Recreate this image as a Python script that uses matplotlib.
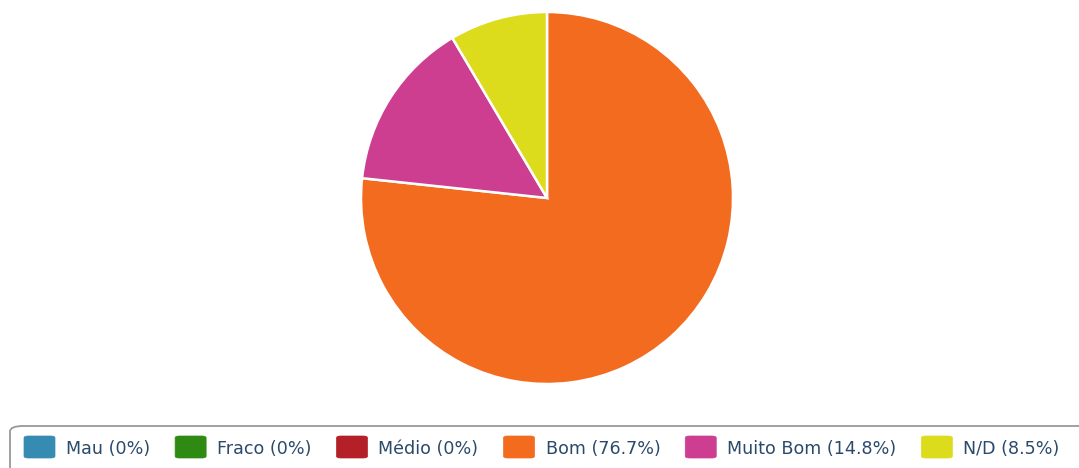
import matplotlib
matplotlib.use("Agg")
import matplotlib.pyplot as plt
from matplotlib.patches import FancyBboxPatch

labels = ["Mau", "Fraco", "Médio", "Bom", "Muito Bom", "N/D"]
values = [0, 0, 0, 76.7, 14.8, 8.5]
colors = ["#368bb2", "#2e8a12", "#b32028", "#f26b1f", "#cd3e91", "#dcdc1c"]
legend_labels = ["Mau (0%)", "Fraco (0%)", "Médio (0%)", "Bom (76.7%)",
                 "Muito Bom (14.8%)", "N/D (8.5%)"]

W, H = 1079, 468
fig = plt.figure(figsize=(W / 100, H / 100), dpi=100)
plt.rcParams["font.family"] = ["DejaVu Sans"]

# pie, only non-zero slices drawn
cx, cy, r = 547, 198, 186
ax = fig.add_axes([(cx - r) / W, 1 - (cy + r) / H, 2 * r / W, 2 * r / H])
vals = [v for v in values if v > 0]
cols = [c for v, c in zip(values, colors) if v > 0]
ax.pie(vals, colors=cols, startangle=90, counterclock=False,
       wedgeprops=dict(edgecolor="white", linewidth=1.8))
ax.set_xlim(-1.0, 1.0)
ax.set_ylim(-1.0, 1.0)
ax.set_aspect("equal")
ax.axis("off")

# legend box (runs off the right edge like the original)
box = FancyBboxPatch((10 / W, -20 / H), 1100 / W, 62 / H,
                     boxstyle="round,pad=0,rounding_size=0.012",
                     transform=fig.transFigure, facecolor="white",
                     edgecolor="#999999", linewidth=1.3, clip_on=False)
fig.add_artist(box)

fig.canvas.draw()
renderer = fig.canvas.get_renderer()
x = 24
for lab, col in zip(legend_labels, colors):
    sq = FancyBboxPatch((x / W, 1 - 458 / H), 31 / W, 22 / H,
                        boxstyle="round,pad=0,rounding_size=0.004",
                        transform=fig.transFigure, facecolor=col,
                        edgecolor=col, linewidth=0.5)
    fig.add_artist(sq)
    t = fig.text((x + 42) / W, 1 - 449 / H, lab, fontsize=12.6,
                 color="#2b4a6b", va="center", ha="left")
    bb = t.get_window_extent(renderer)
    x = bb.x1 + 25

fig.savefig("out.png", dpi=100)
